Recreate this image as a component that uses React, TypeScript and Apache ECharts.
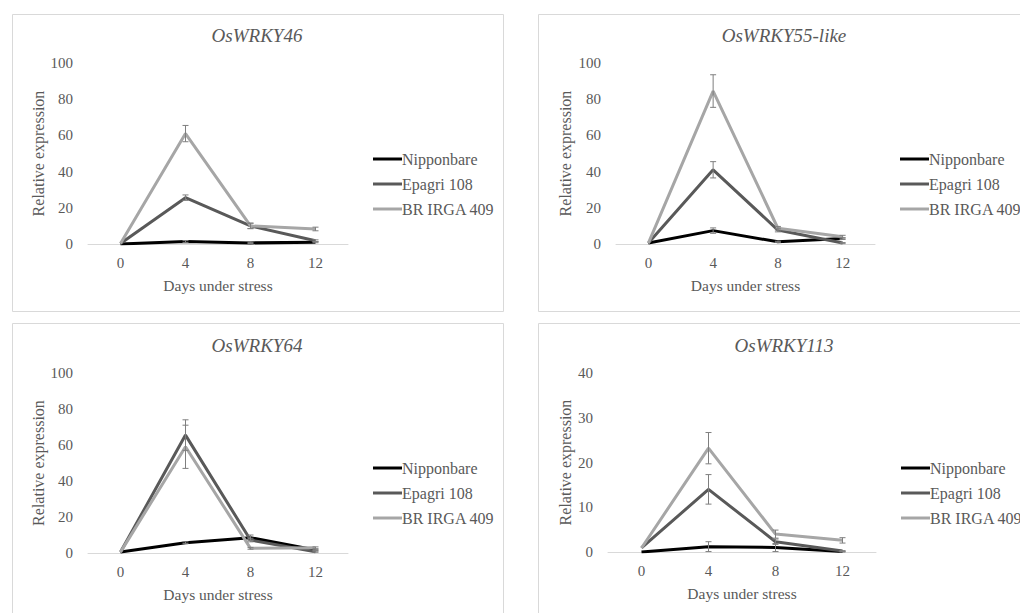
import React, { useEffect, useRef } from "react";
import * as echarts from "echarts";

const days = ["0", "4", "8", "12"];
const seriesNames = ["Nipponbare", "Epagri 108", "BR IRGA 409"];
const seriesColors = ["#000000", "#595959", "#a6a6a6"];
const geneTitles = ["OsWRKY46", "OsWRKY55-like", "OsWRKY64", "OsWRKY113"];
const yMax = [100, 100, 100, 40];
const yInterval = [20, 20, 20, 10];

// OsWRKY46
const w46Nipponbare = [0, 1.4, 0.6, 1.0];
const w46Epagri = [0.3, 25.6, 10, 1.8];
const w46BrIrga = [0.3, 61, 10, 8.3];
const w46NipponbareErr = [0, 0.5, 0.3, 0.3];
const w46EpagriErr = [0, 1.5, 1.5, 0.5];
const w46BrIrgaErr = [0, 4.5, 1.5, 1];

// OsWRKY55-like
const w55Nipponbare = [0.5, 7.4, 1.2, 3.0];
const w55Epagri = [0.5, 41, 7.7, 0.5];
const w55BrIrga = [0.5, 84.5, 8.7, 4];
const w55NipponbareErr = [0, 1.5, 0.3, 0.5];
const w55EpagriErr = [0, 4.5, 1, 0.3];
const w55BrIrgaErr = [0, 9, 1, 0.8];

// OsWRKY64
const w64Nipponbare = [0.5, 5.7, 8.5, 1.7];
const w64Epagri = [0.5, 65.5, 7.2, 0.7];
const w64BrIrga = [0.5, 59, 2.6, 2.9];
const w64NipponbareErr = [0, 0.5, 1.5, 0.3];
const w64EpagriErr = [0, 8.5, 1, 0.3];
const w64BrIrgaErr = [0, 12, 0.5, 0.5];

// OsWRKY113
const w113Nipponbare = [0, 1.2, 1.0, 0.1];
const w113Epagri = [0.9, 14, 2.3, 0.2];
const w113BrIrga = [0.9, 23.2, 4.0, 2.6];
const w113NipponbareErr = [0, 1.1, 0.9, 0.1];
const w113EpagriErr = [0, 3.3, 0.6, 0.1];
const w113BrIrgaErr = [0, 3.5, 0.9, 0.6];

const panelValues = [
  [w46Nipponbare, w46Epagri, w46BrIrga],
  [w55Nipponbare, w55Epagri, w55BrIrga],
  [w64Nipponbare, w64Epagri, w64BrIrga],
  [w113Nipponbare, w113Epagri, w113BrIrga],
];
const panelErrors = [
  [w46NipponbareErr, w46EpagriErr, w46BrIrgaErr],
  [w55NipponbareErr, w55EpagriErr, w55BrIrgaErr],
  [w64NipponbareErr, w64EpagriErr, w64BrIrgaErr],
  [w113NipponbareErr, w113EpagriErr, w113BrIrgaErr],
];

// layout
const layout = [
  { box: [12, 14, 491, 297], grid: [88, 63, 260, 181], title: [257, 35], legend: [368, 146], yGap: 42 },
  { box: [538, 14, 520, 297], grid: [616, 63, 259, 181], title: [784, 35], legend: [895, 146], yGap: 43 },
  { box: [12, 323, 491, 320], grid: [88, 373, 260, 180], title: [257, 345], legend: [368, 455], yGap: 42 },
  { box: [538, 323, 520, 320], grid: [608, 373, 268, 179], title: [784, 345], legend: [896, 455], yGap: 35 },
];

const FONT = "Liberation Serif";
const TXT = "#595959";

export default function App() {
  const ref = useRef<HTMLDivElement>(null);
  useEffect(() => {
    const chart = echarts.init(ref.current!, null, { renderer: "svg" });
    const graphic: any[] = [];
    layout.forEach((l, i) => {
      graphic.push({
        type: "rect",
        shape: { x: l.box[0] + 0.5, y: l.box[1] + 0.5, width: l.box[2], height: l.box[3] },
        style: { fill: "none", stroke: "#d9d9d9", lineWidth: 1 },
        silent: true,
        z: -1,
      });
      graphic.push({
        type: "text",
        x: l.title[0],
        y: l.title[1],
        style: {
          text: geneTitles[i],
          fontFamily: FONT,
          fontStyle: "italic",
          fontSize: 19,
          fill: TXT,
          align: "center",
          verticalAlign: "middle",
        },
      });
    });

    const series: any[] = [];
    panelValues.forEach((vals, p) => {
      vals.forEach((v, s) => {
        series.push({
          type: "line",
          name: seriesNames[s],
          xAxisIndex: p,
          yAxisIndex: p,
          data: v,
          symbol: "none",
          lineStyle: { width: 3, color: seriesColors[s] },
          itemStyle: { color: seriesColors[s] },
          z: 2 + s * 0.1,
        });
      });
      vals.forEach((v, s) => {
        const errData = v
          .map((val, i) => [i, val - panelErrors[p][s][i], val + panelErrors[p][s][i], panelErrors[p][s][i]])
          .filter((d) => d[3] > 0)
          .map((d) => [d[0], Math.max(0, d[1]), d[2]]);
        series.push({
          type: "custom",
          xAxisIndex: p,
          yAxisIndex: p,
          data: errData,
          encode: { x: 0, y: [1, 2] },
          z: 5,
          silent: true,
          renderItem: (params: any, api: any) => {
            const x = api.value(0);
            const top = api.coord([x, api.value(2)]);
            const bot = api.coord([x, api.value(1)]);
            const cx = top[0];
            const w = 3;
            const st = { stroke: "#7f7f7f", lineWidth: 1 };
            return {
              type: "group",
              children: [
                { type: "line", shape: { x1: cx, y1: top[1], x2: cx, y2: bot[1] }, style: st },
                { type: "line", shape: { x1: cx - w, y1: top[1], x2: cx + w, y2: top[1] }, style: st },
                { type: "line", shape: { x1: cx - w, y1: bot[1], x2: cx + w, y2: bot[1] }, style: st },
              ],
            };
          },
        });
      });
    });

    const option: any = {
      animation: false,
      graphic,
      legend: layout.map((l) => ({
        data: seriesNames,
        orient: "vertical",
        left: l.legend[0],
        top: l.legend[1],
        icon: "rect",
        itemWidth: 29,
        itemHeight: 3,
        itemGap: 9,
        selectedMode: false,
        textStyle: { fontFamily: FONT, fontSize: 16, color: TXT, lineHeight: 16, padding: [0, 0, 0, -5] },
      })),
      grid: layout.map((l) => ({
        left: l.grid[0],
        top: l.grid[1],
        width: l.grid[2],
        height: l.grid[3],
        containLabel: false,
      })),
      xAxis: layout.map((l, i) => ({
        type: "category",
        gridIndex: i,
        data: days,
        boundaryGap: true,
        axisLine: { show: true, lineStyle: { color: "#d9d9d9", width: 1 } },
        axisTick: { show: false },
        splitLine: { show: false },
        axisLabel: { color: TXT, fontSize: 15, fontFamily: FONT, margin: 11 },
        name: "Days under stress",
        nameLocation: "middle",
        nameGap: 33,
        nameTextStyle: { color: TXT, fontSize: 15.5, fontFamily: FONT },
      })),
      yAxis: layout.map((l, i) => ({
        type: "value",
        gridIndex: i,
        min: 0,
        max: yMax[i],
        interval: yInterval[i],
        axisLine: { show: false },
        axisTick: { show: false },
        splitLine: { show: false },
        axisLabel: { color: TXT, fontSize: 15, fontFamily: FONT, margin: 15 },
        name: "Relative expression",
        nameLocation: "middle",
        nameGap: l.yGap,
        nameTextStyle: { color: TXT, fontSize: 16, fontFamily: FONT },
      })),
      series,
    };
    chart.setOption(option);
    return () => chart.dispose();
  }, []);
  return (
    <div
      ref={ref}
      style={{ position: "fixed", left: 0, top: 0, width: 1020, height: 613, background: "#fff" }}
    />
  );
}
